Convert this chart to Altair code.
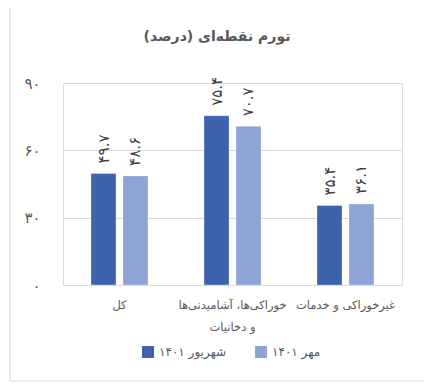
import altair as alt
import pandas as pd

categories = ["کل", "خوراکی‌ها، آشامیدنی‌ها و دخانیات", "غیرخوراکی و خدمات"]
category_lines = [["کل"], ["خوراکی‌ها، آشامیدنی‌ها", "و دخانیات"], ["غیرخوراکی و خدمات"]]
series = ["شهریور ۱۴۰۱", "مهر ۱۴۰۱"]
shahrivar = [49.7, 75.4, 35.4]
mehr = [48.6, 70.7, 36.1]
y_ticks = [0, 30, 60, 90]
y_tick_labels = ["۰", "۳۰", "۶۰", "۹۰"]
colors = ["#3c63ab", "#8fa3d4"]
title_text = "تورم نقطه‌ای (درصد)"

FONT = "DejaVu Sans"
fa = str.maketrans("0123456789", "۰۱۲۳۴۵۶۷۸۹")

rows = []
for s, vals in zip(series, [shahrivar, mehr]):
    for c, v in zip(categories, vals):
        rows.append({"category": c, "series": s, "value": v,
                     "label": f"{v:.1f}".translate(fa)})
df = pd.DataFrame(rows)

def js_list(items):
    return "[" + ",".join("'" + t + "'" for t in items) + "]"

x_expr = "datum.label"
for c, lines in zip(categories, category_lines):
    if len(lines) > 1:
        x_expr = f"datum.value == '{c}' ? {js_list(lines)} : " + x_expr

y_expr = "datum.label"
for v, t in zip(y_ticks, y_tick_labels):
    y_expr = f"datum.value == {v} ? '{t}' : " + y_expr

x = alt.X("category:N", sort=categories, title=None,
          scale=alt.Scale(paddingInner=0.4956, paddingOuter=0.2478),
          axis=alt.Axis(labelAngle=0, ticks=False, domain=False, labelPadding=14,
                        labelFontSize=11.5, labelColor="#595959", labelFont=FONT,
                        labelLineHeight=22, labelExpr=x_expr, labelLimit=200))
xo = alt.XOffset("series:N", sort=series,
                 scale=alt.Scale(paddingInner=0.21875, paddingOuter=0))
y = alt.Y("value:Q", title=None,
          scale=alt.Scale(domain=[0, 90], nice=False),
          axis=alt.Axis(values=y_ticks, labelExpr=y_expr, ticks=False, domain=False,
                        labelPadding=23, labelFontSize=15, labelColor="#595959",
                        labelFont=FONT, gridColor="#d9d9d9", gridWidth=1))

base = alt.Chart(df)
bars = base.mark_bar(stroke="#ffffff", strokeWidth=0.6, strokeOpacity=0.5).encode(
    x=x, xOffset=xo, y=y,
    color=alt.Color("series:N", sort=series,
                    scale=alt.Scale(domain=series, range=colors),
                    legend=alt.Legend(orient="none", legendX=79, legendY=263,
                                      direction="horizontal", title=None,
                                      symbolType="square", symbolSize=144,
                                      symbolStrokeWidth=0, labelFontSize=12,
                                      labelColor="#595959", labelFont=FONT,
                                      columnPadding=28, labelOffset=5)),
)
labels = base.mark_text(angle=270, align="left", baseline="middle", dx=10,
                        fontSize=15, color="#404040", font=FONT).encode(
    x=alt.X("category:N", sort=categories),
    xOffset=xo,
    y=alt.Y("value:Q"),
    text="label:N",
)
frame = alt.Chart(alt.Data(values=[{}])).mark_rect(
    fillOpacity=0, stroke="#d9d9d9", strokeWidth=1.2).encode(
    x=alt.value(-53), x2=alt.value(362), y=alt.value(-78), y2=alt.value(298))
title = alt.Chart(alt.Data(values=[{"t": title_text}])).mark_text(
    fontSize=14, fontWeight="bold", color="#595959", font=FONT,
    align="center", baseline="middle").encode(
    x=alt.value(154), y=alt.value(-46), text="t:N")

chart = alt.layer(frame, title, bars, labels).properties(
    width=339, height=202,
    autosize=alt.AutoSizeParams(type="none"),
    padding={"left": 55, "top": 75, "right": 22, "bottom": 98},
).configure_view(stroke=None).configure(background="white")

chart.save("out.html", embed_options={"renderer": "svg", "actions": False})
